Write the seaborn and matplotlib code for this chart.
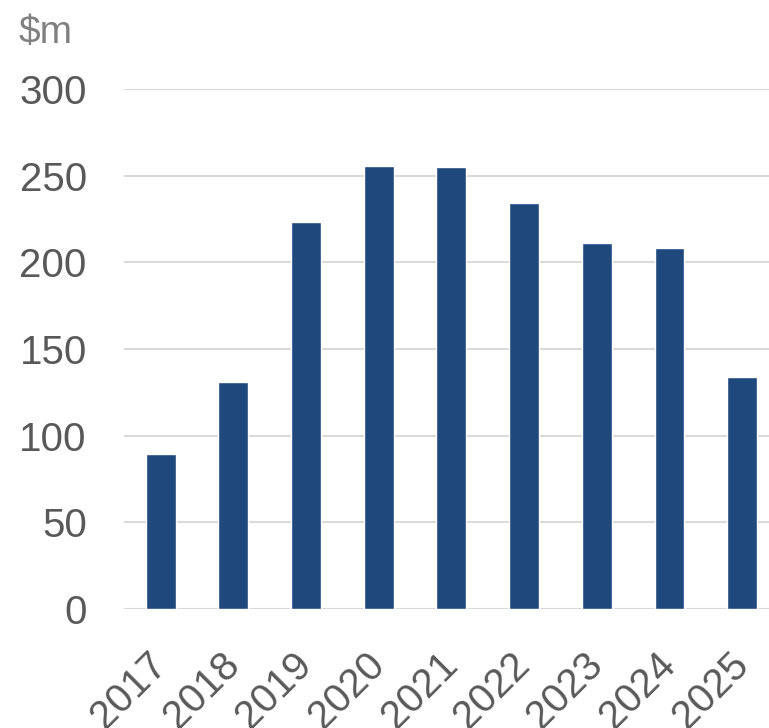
import matplotlib
matplotlib.use("Agg")
import matplotlib.pyplot as plt
import seaborn as sns
import pandas as pd

years = ["2017", "2018", "2019", "2020", "2021", "2022", "2023", "2024", "2025"]
values = [89.5, 131, 223, 255.5, 255, 234, 211, 208, 134]
y_ticks = [0, 50, 100, 150, 200, 250, 300]
unit_label = "$m"

sns.set_theme(style="white")
plt.rcParams["font.family"] = ["Liberation Sans", "DejaVu Sans"]

df = pd.DataFrame({"year": years, "value": values})

fig = plt.figure(figsize=(7.69, 7.28), dpi=100)
ax = fig.add_axes([0.1617, 0.1637, 0.8383, 0.714])

sns.barplot(data=df, x="year", y="value", color="#1F497D", width=0.41,
            saturation=1, ax=ax, zorder=3)

ax.set_ylim(0, 300)
ax.set_xlim(-0.5, 8.37)
ax.set_yticks(y_ticks)
ax.set_yticklabels([str(t) for t in y_ticks])
ax.yaxis.grid(True, color="#d9d9d9", linewidth=1.5, zorder=0)
ax.set_axisbelow(True)
for s in ax.spines.values():
    s.set_visible(False)
ax.tick_params(axis="both", length=0, labelsize=29, labelcolor="#595959")
ax.tick_params(axis="y", pad=27)
ax.tick_params(axis="x", pad=36)
ax.set_xlabel("")
ax.set_ylabel("")
for lbl in ax.get_xticklabels():
    lbl.set_rotation(45)
    lbl.set_ha("right")
    lbl.set_va("center")
    lbl.set_rotation_mode("anchor")

fig.text(19 / 769, 1 - 43 / 728, unit_label, fontsize=28, color="#808080",
         ha="left", va="baseline")

fig.savefig("out.png", dpi=100)
